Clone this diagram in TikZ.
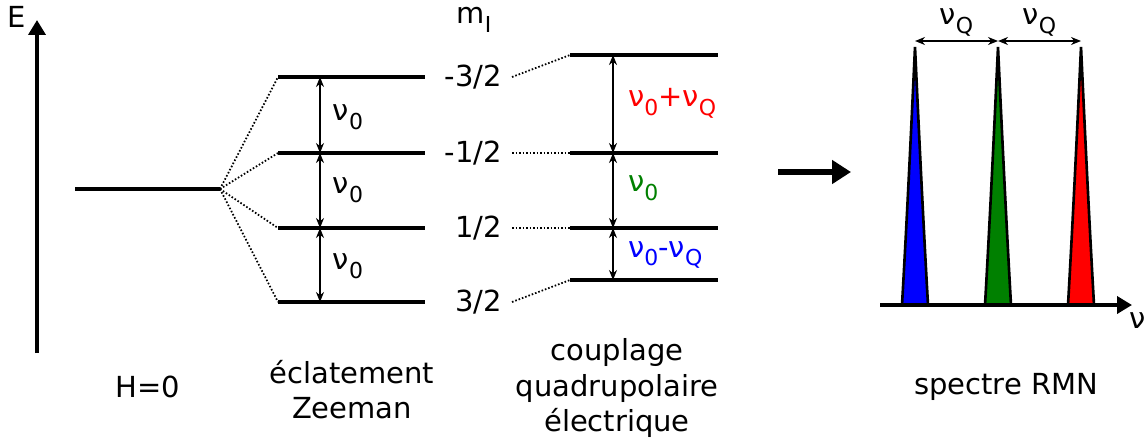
\documentclass[tikz,border=0pt]{standalone}
\usepackage{fontspec}
\setmainfont{DejaVu Sans}
\usetikzlibrary{arrows.meta}
\definecolor{rouge}{RGB}{255,0,0}
\definecolor{vert}{RGB}{0,128,0}
\definecolor{bleu}{RGB}{0,0,255}
\newcommand{\ind}[1]{\raisebox{-5pt}{\fontsize{12.5}{14}\selectfont #1}}

\begin{document}
\begin{tikzpicture}[
    x=0.02cm, y=-0.02cm,
    font=\fontsize{16.5}{20}\selectfont,
    niveau/.style={line width=2.1pt},
    lien/.style={dash pattern=on 0.9pt off 1.1pt, line width=1pt},
    ecart/.style={
        {Stealth[length=2mm,width=1.6mm]}-{Stealth[length=2mm,width=1.6mm]},
        line width=1.1pt
    },
    axe/.style={-{Triangle[length=3mm,width=3.4mm]}, line width=2.1pt},
    raie/.style={draw, line width=1.5pt},
    etiq/.style={anchor=east, inner xsep=0.2cm}
]
    \useasboundingbox (0,0) rectangle (1145,443);

    % axe des energies
    \coordinate (e0) at (37,353);
    \coordinate (e1) at (37,20);
    \draw[axe] (e0) -- (e1);
    \node (E) at (17,17) {E};

    % niveau H=0
    \coordinate (h0a) at (75,189);
    \coordinate (h0b) at (220,189);
    \draw[niveau] (h0a) -- (h0b);

    % eclatement Zeeman
    \foreach \n/\y in {z1/77, z2/153, z3/228, z4/302} {
        \coordinate (\n a) at (278,\y);
        \coordinate (\n b) at (425,\y);
        \draw[niveau] (\n a) -- (\n b);
        \draw[lien] (h0b) -- (\n a);
    }
    \coordinate (zf) at (320,0);
    \draw[ecart] (zf |- z1a) -- (zf |- z2a);
    \draw[ecart] (zf |- z2a) -- (zf |- z3a);
    \draw[ecart] (zf |- z3a) -- (zf |- z4a);
    \node (nu1) at (348,117) {ν\ind{0}};
    \node (nu2) at (348,190) {ν\ind{0}};
    \node (nu3) at (348,266) {ν\ind{0}};

    % nombres quantiques
    \node (mI) at (474,20) {m\ind{I}};
    \node[etiq] (m1) at (512,77) {-3/2};
    \node[etiq] (m2) at (512,153) {-1/2};
    \node[etiq] (m3) at (512,228) {1/2};
    \node[etiq] (m4) at (512,302) {3/2};

    % couplage quadrupolaire
    \foreach \n/\y in {q1/55, q2/153, q3/228, q4/280} {
        \coordinate (\n a) at (570,\y);
        \coordinate (\n b) at (718,\y);
        \draw[niveau] (\n a) -- (\n b);
    }
    \draw[lien] (m1.east) -- (q1a);
    \draw[lien] (m2.east) -- (q2a);
    \draw[lien] (m3.east) -- (q3a);
    \draw[lien] (m4.east) -- (q4a);
    \coordinate (qf) at (613,0);
    \draw[ecart] (qf |- q1a) -- (qf |- q2a);
    \draw[ecart] (qf |- q2a) -- (qf |- q3a);
    \draw[ecart, line width=0.8pt] (qf |- q3a) -- (qf |- q4a);
    \node[anchor=west, text=rouge] (nq1) at (622,103) {ν\ind{0}+ν\ind{Q}};
    \node[anchor=west, text=vert] (nq2) at (622,188) {ν\ind{0}};
    \node[anchor=west, text=bleu] (nq3) at (622,255) {ν\ind{0}-ν\ind{Q}};

    % fleche vers le spectre
    \coordinate (fa) at (778,172);
    \coordinate (fb) at (851,172);
    \draw[-{Triangle[length=3.8mm,width=4.6mm]}, line width=3pt] (fa) -- (fb);

    % spectre RMN
    \foreach \x/\c in {915/bleu, 998/vert, 1081/rouge} {
        \draw[raie, fill=\c] (\x-13,305) .. controls (\x-7,200) and (\x-2,90) .. (\x,47)
            .. controls (\x+2,90) and (\x+7,200) .. (\x+13,305) -- cycle;
        \coordinate (s\c) at (\x,41);
    }
    \coordinate (s0) at (880,305);
    \coordinate (s1) at (1132,305);
    \draw[axe] (s0) -- (s1);
    \node (nu) at (1138,321) {ν};
    \draw[ecart, line width=0.8pt] (sbleu) -- node[above=-1pt] {ν\ind{Q}} (svert);
    \draw[ecart, line width=0.8pt] (svert) -- node[above=-1pt] {ν\ind{Q}} (srouge);

    % legendes
    \node (h0) at (148,387) {H=0};
    \node[align=center] (zee) at (352,390) {éclatement\\Zeeman};
    \node[align=center] (quad) at (617,388) {couplage\\quadrupolaire\\électrique};
    \node (rmn) at (1006,387) {spectre RMN};
\end{tikzpicture}
\end{document}
